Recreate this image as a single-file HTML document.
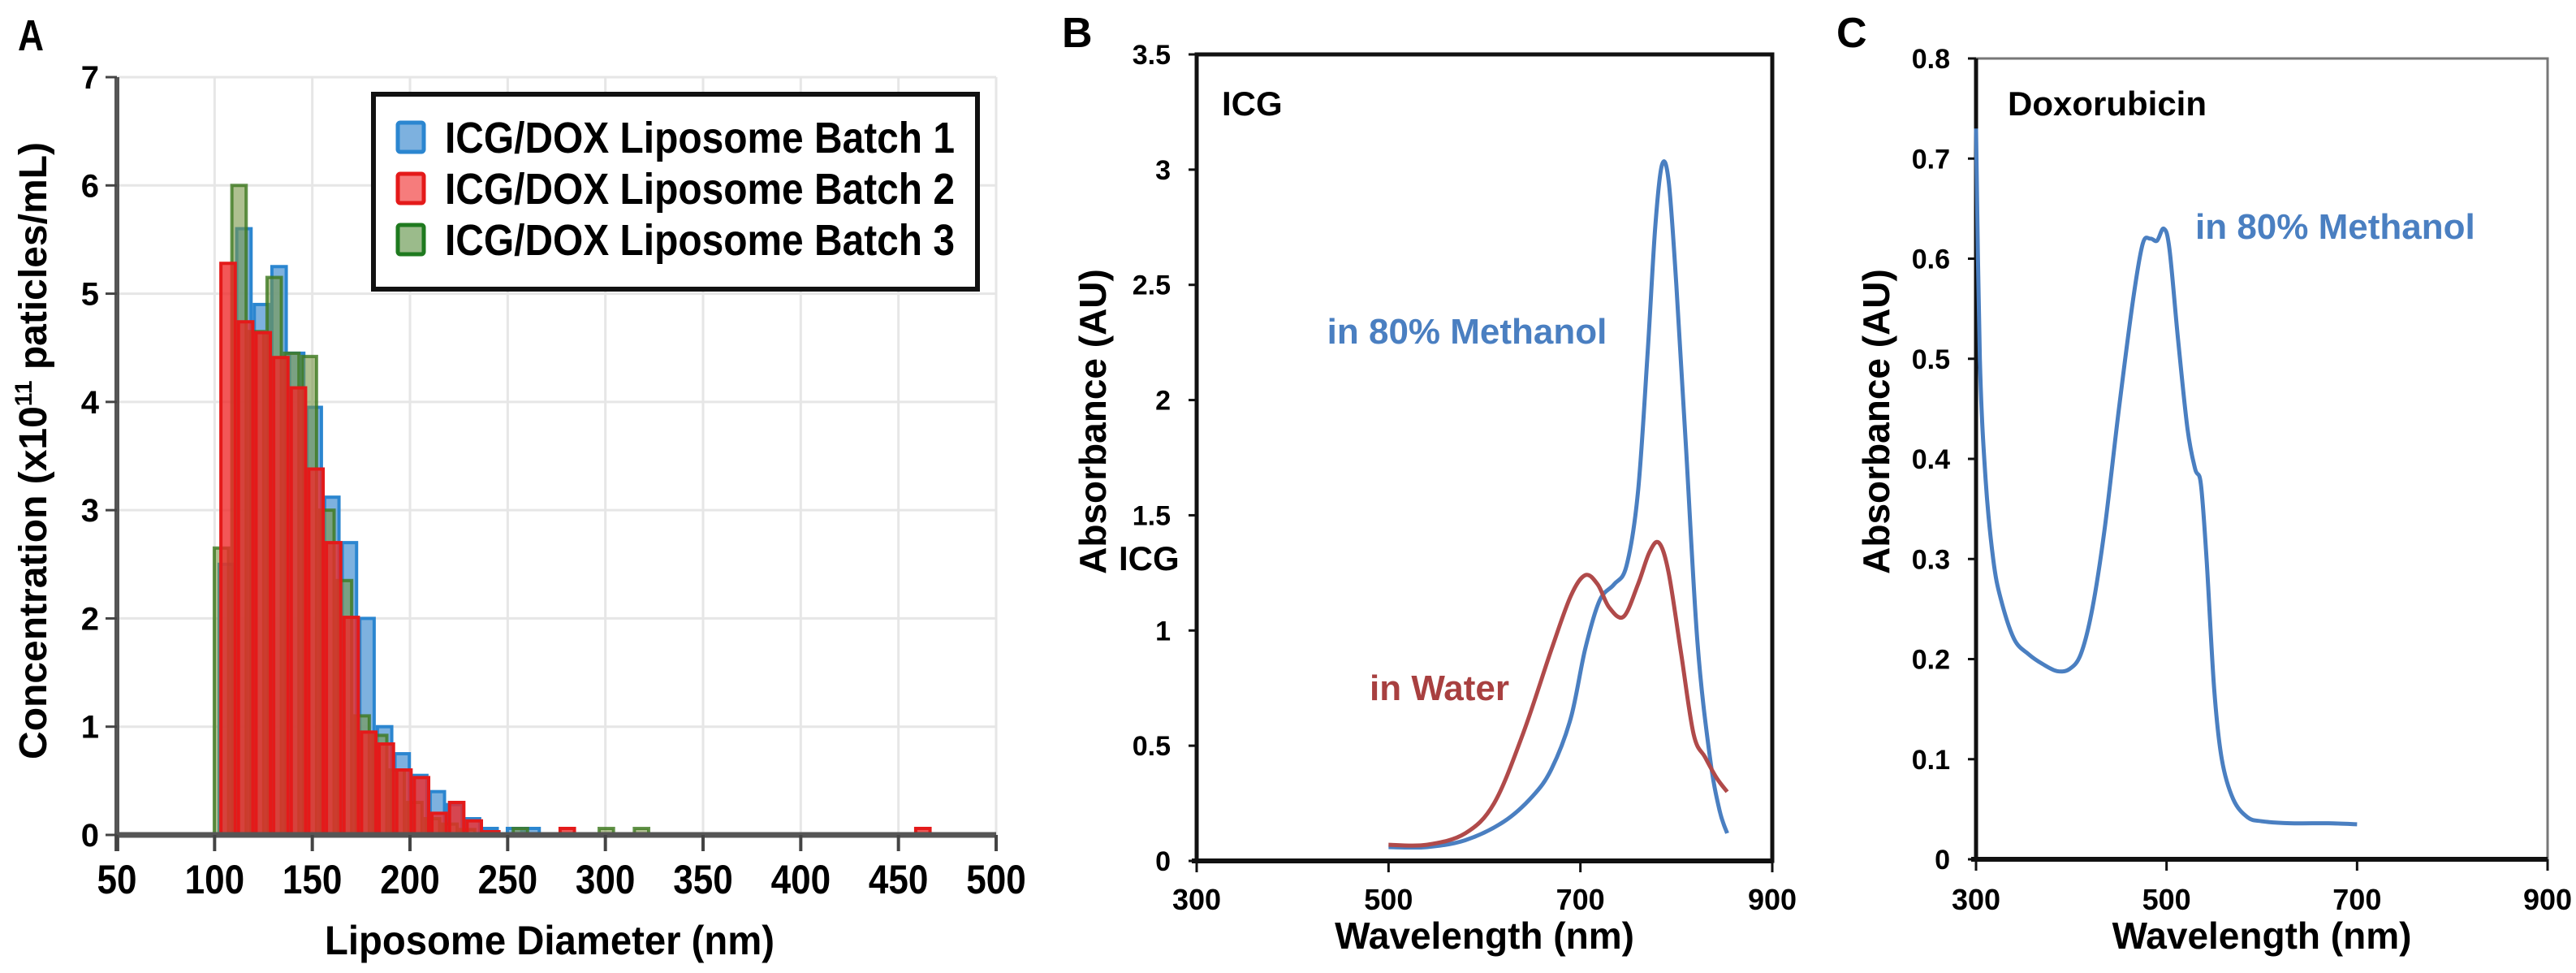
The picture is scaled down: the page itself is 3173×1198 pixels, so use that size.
<!DOCTYPE html>
<html><head><meta charset="utf-8"><style>
html,body{margin:0;padding:0;background:#fff;}
svg{display:block;}
text{font-family:"Liberation Sans",Arial,sans-serif;font-weight:bold;}
.n{font-family:"Liberation Sans Narrow","Liberation Sans",sans-serif;}
</style></head><body>
<svg id="fig" width="3173" height="1198" viewBox="0 0 3173 1198" xmlns="http://www.w3.org/2000/svg">
<g id="pA"></g>
<g id="pB"></g>
<g id="pC"></g>
</svg>
<script>
// ---- Panel A data ----
const aXTicks = [50,100,150,200,250,300,350,400,450,500];
const aYTicks = [0,1,2,3,4,5,6,7];
const binWidth = 9;
const blueStart = 101.5;
const blueVals = [2.5,5.6,4.9,5.25,4.45,3.95,3.12,2.7,2.0,1.0,0.75,0.55,0.4,0.28,0.15,0.06];
const greenStart = 99;
const greenVals = [2.65,6.0,4.65,5.15,4.45,4.42,3.0,2.35,1.1,0.92,0.6,0.3,0.15,0.1,0.05];
const redStart = 102.4;
const redVals = [5.28,4.74,4.64,4.41,4.13,3.38,2.70,2.01,0.95,0.84,0.6,0.53,0.2,0.3,0.13,0.03];
const blueOutBins = [249,258];
const greenOutBins = [252,296,314];
const redOutBins = [276,458];
const outVal = 0.06;
const legendLabels = ["ICG/DOX Liposome Batch 1","ICG/DOX Liposome Batch 2","ICG/DOX Liposome Batch 3"];
// ---- Panel B data ----
const bXTicks = [300,500,700,900];
const bYTicks = [0,0.5,1,1.5,2,2.5,3,3.5];
const bYTickLabels = ["0","0.5","1","1.5","2","2.5","3","3.5"];
const methWl = [500,540,580,620,650,670,690,705,720,735,748,760,770,778,785,792,800,810,822,835,845,853];
const methAbs = [0.06,0.06,0.09,0.17,0.28,0.4,0.62,0.92,1.13,1.2,1.28,1.6,2.2,2.75,3.02,2.95,2.5,1.8,0.95,0.45,0.22,0.12];
const waterWl = [500,540,580,610,640,670,690,705,718,730,745,760,772,782,792,805,818,830,842,853];
const waterAbs = [0.07,0.07,0.12,0.25,0.55,0.92,1.15,1.24,1.2,1.1,1.06,1.2,1.34,1.38,1.25,0.9,0.55,0.45,0.36,0.3];
// ---- Panel C data ----
const cXTicks = [300,500,700,900];
const cYTicks = [0,0.1,0.2,0.3,0.4,0.5,0.6,0.7,0.8];
const doxWl = [300,304,310,318,326,340,355,370,385,398,410,422,435,450,465,475,483,490,497,503,512,522,530,536,542,550,558,570,585,600,630,670,700];
const doxAbs = [0.73,0.5,0.38,0.3,0.26,0.22,0.205,0.195,0.188,0.19,0.205,0.25,0.33,0.45,0.56,0.615,0.62,0.618,0.63,0.61,0.52,0.43,0.39,0.375,0.3,0.17,0.1,0.06,0.042,0.038,0.036,0.036,0.035];

const NS="http://www.w3.org/2000/svg";
function mk(parent,tag,attrs,txt){const e=document.createElementNS(NS,tag);for(const k in attrs)e.setAttribute(k,attrs[k]);if(txt!==undefined)e.textContent=txt;parent.appendChild(e);return e;}
function smooth(pts){let d="M"+pts[0][0]+","+pts[0][1];for(let i=0;i<pts.length-1;i++){const p0=pts[i-1]||pts[i],p1=pts[i],p2=pts[i+1],p3=pts[i+2]||p2;const c1x=p1[0]+(p2[0]-p0[0])/6,c1y=p1[1]+(p2[1]-p0[1])/6,c2x=p2[0]-(p3[0]-p1[0])/6,c2y=p2[1]-(p3[1]-p1[1])/6;d+=` C${c1x},${c1y} ${c2x},${c2y} ${p2[0]},${p2[1]}`;}return d;}

// ===== Panel A =====
(function(){
const g=document.getElementById('pA');
const X0=144,X1=1227,Y0=1028,Y1=95;
const xs=v=>X0+(v-50)/450*(X1-X0);
const ys=v=>Y0-(v/7)*(Y0-Y1);
let t=mk(g,'text',{x:22,y:62,'font-size':54,class:'n',textLength:32,lengthAdjust:'spacingAndGlyphs'},'A');

aXTicks.forEach(v=>{let l=mk(g,'line',{x1:xs(v),x2:xs(v),y1:Y1,y2:Y0,stroke:'#e6e6e6','stroke-width':3});});
aYTicks.forEach(v=>{let l=mk(g,'line',{x1:X0,x2:X1,y1:ys(v),y2:ys(v),stroke:'#e6e6e6','stroke-width':3});});
function bars(vals,start,fill,stroke,name){vals.forEach((v,i)=>{const a=start+i*binWidth;let r=mk(g,'rect',{x:xs(a)+2,y:ys(v),width:xs(a+binWidth)-xs(a)-4,height:Y0-ys(v),fill:fill,stroke:stroke,'stroke-width':4});});}
function outs(bins,fill,stroke,name){bins.forEach(a=>{let r=mk(g,'rect',{x:xs(a)+2,y:ys(outVal),width:xs(a+binWidth)-xs(a)-4,height:Y0-ys(outVal),fill:fill,stroke:stroke,'stroke-width':4});});}
bars(blueVals,blueStart,'rgba(111,168,220,0.9)','#2b86d0','bar-batch-1');outs(blueOutBins,'rgba(111,168,220,0.9)','#2b86d0','bar-batch-1');
bars(greenVals,greenStart,'rgba(120,150,70,0.6)','rgba(60,120,30,0.8)','bar-batch-3');outs(greenOutBins,'rgba(120,150,70,0.6)','rgba(60,120,30,0.8)','bar-batch-3');
bars(redVals,redStart,'rgba(240,40,40,0.78)','#e41a1a','bar-batch-2');outs(redOutBins,'rgba(240,40,40,0.78)','#e41a1a','bar-batch-2');
let ax=mk(g,'line',{x1:X0,x2:X0,y1:Y1,y2:Y0+20,stroke:'#555','stroke-width':6});
ax=mk(g,'line',{x1:X0,x2:X1,y1:Y0,y2:Y0,stroke:'#555','stroke-width':7});
aYTicks.forEach(v=>{mk(g,'line',{x1:X0-14,x2:X0,y1:ys(v),y2:ys(v),stroke:'#444','stroke-width':3});let tt=mk(g,'text',{x:122,y:ys(v)+14,'text-anchor':'end','font-size':40},String(v));});
aXTicks.forEach(v=>{mk(g,'line',{x1:xs(v),x2:xs(v),y1:Y0,y2:Y0+20,stroke:'#444','stroke-width':4});const s=String(v);let tt=mk(g,'text',{x:xs(v),y:1100,'text-anchor':'middle','font-size':50,class:'n',textLength:s.length*24.5,lengthAdjust:'spacingAndGlyphs'},s);});
t=mk(g,'text',{x:677,y:1175,'text-anchor':'middle','font-size':50,class:'n',textLength:554,lengthAdjust:'spacingAndGlyphs'},'Liposome Diameter (nm)');
t=mk(g,'text',{x:0,y:0,'text-anchor':'middle','font-size':48,class:'n',transform:'translate(57,555) rotate(-90)'});

mk(t,'tspan',{},'Concentration (x10');mk(t,'tspan',{dy:-18,'font-size':30},'11');mk(t,'tspan',{dy:18},' paticles/mL)');
// legend
const lg=mk(g,'g',{});
mk(lg,'rect',{x:460,y:116,width:744,height:240,fill:'#fff',stroke:'#111','stroke-width':6});
const lf=['rgba(111,168,220,0.9)','rgba(245,110,110,0.9)','rgba(130,170,110,0.8)'],ls=['#2b86d0','#e41a1a','#1f7a1f'];
legendLabels.forEach((s,i)=>{const cy=169+i*63;let e=mk(lg,'g',{});
mk(e,'rect',{x:490,y:cy-18,width:32,height:36,fill:lf[i],stroke:ls[i],'stroke-width':5,rx:3});
mk(e,'text',{x:548,y:cy+19,'font-size':54,class:'n',textLength:628,lengthAdjust:'spacingAndGlyphs'},s);});
})();

// ===== Line panels =====
function linePanel(gid,L,R,T,B,xmin,xmax,ymax,xticks,yticks,ylabels,letter,letterX,fullBox){
const g=document.getElementById(gid);
const xs=v=>L+(v-xmin)/(xmax-xmin)*(R-L), ys=v=>B-v/ymax*(B-T);
let t=mk(g,'text',{x:letterX,y:58,'font-size':52},letter);
let bx=mk(g,'rect',{x:L,y:T,width:R-L,height:B-T,fill:'none',stroke:fullBox?'#111':'#777','stroke-width':fullBox?5:3});
let a=mk(g,'line',{x1:L,x2:L,y1:T,y2:B,stroke:'#111','stroke-width':5});
a=mk(g,'line',{x1:L-6,x2:R,y1:B,y2:B,stroke:'#111','stroke-width':6});
yticks.forEach((v,i)=>{mk(g,'line',{x1:L-10,x2:L,y1:ys(v),y2:ys(v),stroke:'#111','stroke-width':3});let tt=mk(g,'text',{x:L-32,y:ys(v)+12,'text-anchor':'end','font-size':34},ylabels[i]);});
xticks.forEach(v=>{mk(g,'line',{x1:xs(v),x2:xs(v),y1:B,y2:B+14,stroke:'#111','stroke-width':3});let tt=mk(g,'text',{x:xs(v),y:1120,'text-anchor':'middle','font-size':36},String(v));});
t=mk(g,'text',{x:(L+R)/2,y:1168,'text-anchor':'middle','font-size':46},'Wavelength (nm)');
return {g,xs,ys};
}
(function(){
const P=linePanel('pB',1474,2183,67,1060,300,900,3.5,bXTicks,bYTicks,bYTickLabels,'B',1308,true);
let t=mk(P.g,'text',{x:0,y:0,'text-anchor':'middle','font-size':46,transform:'translate(1362,519) rotate(-90)'},'Absorbance (AU)');
t=mk(P.g,'text',{x:1378,y:702,'font-size':42},'ICG');
t=mk(P.g,'text',{x:1505,y:142,'font-size':42},'ICG');
let p=mk(P.g,'path',{d:smooth(methWl.map((w,i)=>[P.xs(w),P.ys(methAbs[i])])),fill:'none',stroke:'#4a7fc1','stroke-width':5});
p=mk(P.g,'path',{d:smooth(waterWl.map((w,i)=>[P.xs(w),P.ys(waterAbs[i])])),fill:'none',stroke:'#b04a4a','stroke-width':5});
t=mk(P.g,'text',{x:1807,y:423,'text-anchor':'middle','font-size':44,fill:'#4a7fc1'},'in 80% Methanol');
t=mk(P.g,'text',{x:1687,y:862,'font-size':44,fill:'#a84040'},'in Water');
})();
(function(){
const P=linePanel('pC',2434,3138,72,1058,300,900,0.8,cXTicks,cYTicks,cYTicks.map(v=>v===0?'0':v.toFixed(1)),'C',2262,false);
let t=mk(P.g,'text',{x:0,y:0,'text-anchor':'middle','font-size':46,transform:'translate(2327,519) rotate(-90)'},'Absorbance (AU)');
t=mk(P.g,'text',{x:2473,y:142,'font-size':42},'Doxorubicin');
let p=mk(P.g,'path',{d:smooth(doxWl.map((w,i)=>[P.xs(w),P.ys(doxAbs[i])])),fill:'none',stroke:'#4a7fc1','stroke-width':5});
t=mk(P.g,'text',{x:2704,y:294,'font-size':44,fill:'#4a7fc1'},'in 80% Methanol');
})();
</script>
</body></html>
